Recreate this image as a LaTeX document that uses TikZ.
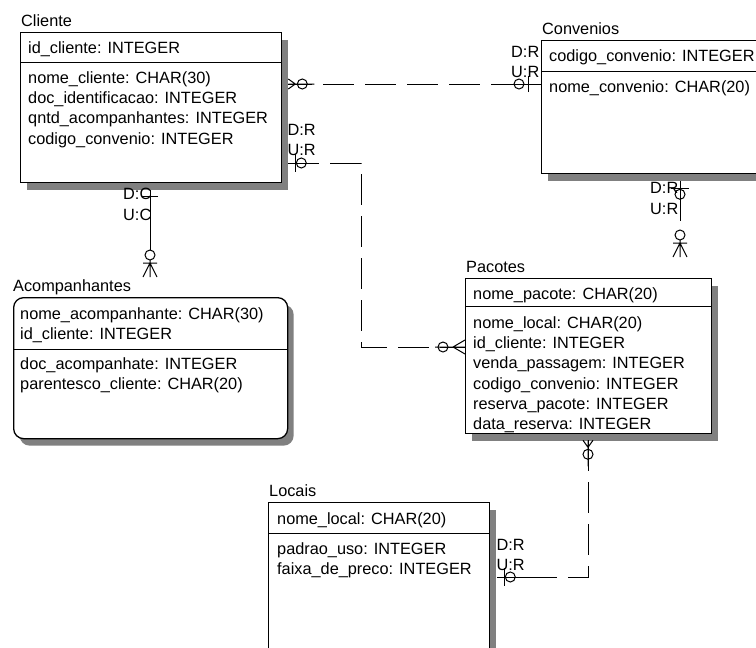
\documentclass[tikz,border=0pt]{standalone}
\usepackage{fontspec}
\setmainfont{Liberation Sans}
\usetikzlibrary{positioning, calc, shadows}
\newcommand{\erfont}{\fontsize{16.3}{20.2}\selectfont}
\tikzstyle{entity} = [draw, line width=1.3pt, fill=white, anchor=north west, inner sep=0pt, drop shadow={shadow xshift=6pt, shadow yshift=-7pt, fill=black!50, opacity=1}]
\tikzstyle{title} = [anchor=base west, inner sep=0pt, font=\erfont]
\tikzstyle{fields} = [anchor=north west, inner sep=0pt, align=left, font=\erfont]
\tikzstyle{role} = [anchor=base west, inner sep=0pt, font=\erfont]
\tikzstyle{link} = [line width=1pt]
\tikzstyle{rel} = [line width=1pt, dash pattern=on 31pt off 11pt]
\tikzset{
  zmany/.pic={\draw[link] (0,-5) -- (7,0) -- (0,5) (0,0) -- (26,0); \draw[link] (14,0) circle[radius=5];},
  zmanyb/.pic={\draw[link] (0,-7) -- (12,0) -- (0,7) (0,0) -- (30,0); \draw[link] (22,0) circle[radius=5];},
  zone/.pic={\draw[link] (7,-9) -- (7,9) (0,0) -- (30,0); \draw[link] (13,0) circle[radius=5];},
  zoneb/.pic={\draw[link] (13,-8) -- (13,8) (0,0) -- (30,0); \draw[link] (22,0) circle[radius=5];},
  one/.pic={\draw[link] (6,-8) -- (6,8);},
  manyfig/.pic={\draw[link] (0,-7) -- (14,0) -- (0,7) (0,0) -- (17,0) (14,-7) -- (14,7); \draw[link] (22,0) circle[radius=5];}
}
\begin{document}
\begin{tikzpicture}[x=1pt, y=-1pt]
    \useasboundingbox (0,0) rectangle (756,648);
    \fill[white] (0,0) rectangle (756,648);
    \clip (0,0) rectangle (756,648);

    % entities
    \node[entity, minimum width=261pt, minimum height=150pt] (cliente) at (20,32) {};
    \node[entity, minimum width=230pt, minimum height=133pt] (convenios) at (541,40) {};
    \node[entity, rounded corners=10pt, minimum width=274pt, minimum height=141pt] (acompanhantes) at (13,297) {};
    \node[entity, minimum width=246pt, minimum height=155pt] (pacotes) at (465,278) {};
    \node[entity, minimum width=221pt, minimum height=160pt] (locais) at (268,502) {};

    \draw[link] ($(cliente.north west)+(0,30)$) -- ($(cliente.north east)+(0,30)$);
    \draw[link] ($(convenios.north west)+(0,31)$) -- ($(convenios.north east)+(0,31)$);
    \draw[link] ($(acompanhantes.north west)+(0,52)$) -- ($(acompanhantes.north east)+(0,52)$);
    \draw[link] ($(pacotes.north west)+(0,28)$) -- ($(pacotes.north east)+(0,28)$);
    \draw[link] ($(locais.north west)+(0,31)$) -- ($(locais.north east)+(0,31)$);

    \node[title] (cliente-title) at ($(cliente.north west)+(1,-5.5)$) {Cliente};
    \node[title] (convenios-title) at ($(convenios.north west)+(1,-5.5)$) {Convenios};
    \node[title] (acompanhantes-title) at ($(acompanhantes.north west)+(0,-5.5)$) {Acompanhantes};
    \node[title] (pacotes-title) at ($(pacotes.north west)+(1,-5.5)$) {Pacotes};
    \node[title] (locais-title) at ($(locais.north west)+(1,-5.5)$) {Locais};

    \node[fields] (cliente-key) at ($(cliente.north west)+(8,9.5)$) {id\_cliente: INTEGER};
    \node[fields] (cliente-attr) at ($(cliente.north west)+(8,39.5)$) {nome\_cliente: CHAR(30)\\doc\_identificacao: INTEGER\\qntd\_acompanhantes: INTEGER\\codigo\_convenio: INTEGER};
    \node[fields] (convenios-key) at ($(convenios.north west)+(8,9.5)$) {codigo\_convenio: INTEGER};
    \node[fields] (convenios-attr) at ($(convenios.north west)+(8,40.5)$) {nome\_convenio: CHAR(20)};
    \node[fields] (acompanhantes-key) at ($(acompanhantes.north west)+(7,10)$) {nome\_acompanhante: CHAR(30)\\id\_cliente: INTEGER};
    \node[fields] (acompanhantes-attr) at ($(acompanhantes.north west)+(7,60)$) {doc\_acompanhate: INTEGER\\parentesco\_cliente: CHAR(20)};
    \node[fields] (pacotes-key) at ($(pacotes.north west)+(8,9)$) {nome\_pacote: CHAR(20)};
    \node[fields] (pacotes-attr) at ($(pacotes.north west)+(8,38.5)$) {nome\_local: CHAR(20)\\id\_cliente: INTEGER\\venda\_passagem: INTEGER\\codigo\_convenio: INTEGER\\reserva\_pacote: INTEGER\\data\_reserva: INTEGER};
    \node[fields] (locais-key) at ($(locais.north west)+(9,10)$) {nome\_local: CHAR(20)};
    \node[fields] (locais-attr) at ($(locais.north west)+(9,40.5)$) {padrao\_uso: INTEGER\\faixa\_de\_preco: INTEGER};

    % connection points
    \coordinate (cli-conv) at ($(cliente.north east)+(6,52)$);
    \coordinate (conv-cli) at ($(convenios.north west)+(0,44)$);
    \coordinate (cli-pac) at ($(cliente.north east)+(6,131)$);
    \coordinate (pac-cli) at ($(pacotes.north west)+(0,69)$);
    \coordinate (cli-acp) at ($(cliente.south west)+(130,7)$);
    \coordinate (acp-cli) at ($(acompanhantes.north west)+(137,-20)$);
    \coordinate (conv-pac) at ($(convenios.south west)+(139,7)$);
    \coordinate (pac-conv) at ($(pacotes.north west)+(215,-21)$);
    \coordinate (pac-loc) at ($(pacotes.south west)+(123,6)$);
    \coordinate (loc-pac) at ($(locais.north east)+(7,75)$);

    % relationships
    \draw[rel, dash phase=7pt] (cli-conv) -- (conv-cli);
    \draw[rel] (cli-pac) -- ++(73,0) |- (pac-cli);
    \draw[link] (cli-acp) -- ($(acp-cli)+(0,-27)$);
    \draw[rel, dash phase=33pt] (conv-pac) -- ($(pac-conv)+(0,-27)$);
    \draw[rel] (pac-loc) |- (loc-pac);

    \pic at (cli-conv) {zmany};
    \pic[rotate=180] at (conv-cli) {zoneb};
    \pic at (cli-pac) {zone};
    \pic[rotate=180] at (pac-cli) {zmanyb};
    \pic[rotate=-90] at (cli-acp) {one};
    \pic[rotate=90] at (acp-cli) {manyfig};
    \pic[rotate=-90] at (conv-pac) {zone};
    \pic[rotate=90] at (pac-conv) {manyfig};
    \pic[rotate=-90] at (pac-loc) {zmany};
    \pic at (loc-pac) {zone};

    \node[role] (conv-d) at ($(convenios.north west)+(-30,17)$) {D:R};
    \node[role] (conv-u) at ($(convenios.north west)+(-30,37)$) {U:R};
    \node[role] (clipac-d) at ($(cliente.north east)+(5,103)$) {D:R};
    \node[role] (clipac-u) at ($(cliente.north east)+(5,123)$) {U:R};
    \node[role] (cliacp-d) at ($(cliente.south west)+(103,16)$) {D:C};
    \node[role] (cliacp-u) at ($(cliente.south west)+(103,37)$) {U:C};
    \node[role] (convpac-d) at ($(convenios.south west)+(109,19)$) {D:R};
    \node[role] (convpac-u) at ($(convenios.south west)+(109,40)$) {U:R};
    \node[role] (loc-d) at ($(locais.north east)+(6,48)$) {D:R};
    \node[role] (loc-u) at ($(locais.north east)+(6,68)$) {U:R};
\end{tikzpicture}
\end{document}
